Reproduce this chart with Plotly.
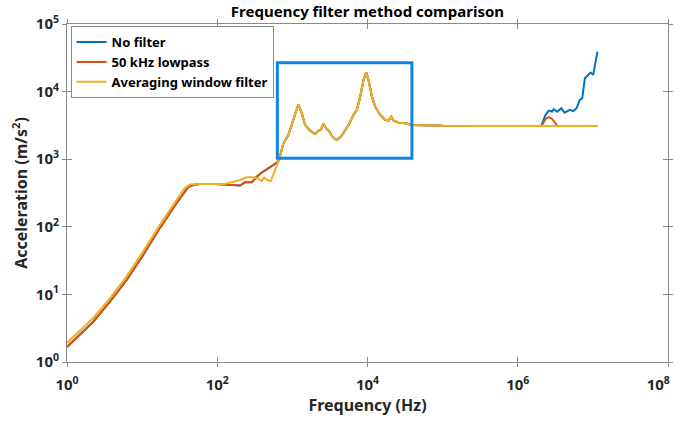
import plotly.graph_objects as go

# Low-frequency part of each spectrum (Hz, m/s^2)
freq_lowpass_low = [1, 2.22, 3.71, 6.19, 10.3, 17.2, 28.7, 41.1, 47.9, 58.8, 93, 148, 201,
                    234, 288, 335, 391, 456, 558, 631]
accel_lowpass_low = [1.67, 3.91, 7.74, 16.2, 38.1, 95.7, 224, 387, 415, 428, 428, 415, 408,
                     455, 455, 550, 635, 708, 820, 900]

freq_avg_low = [1, 2.22, 3.71, 6.19, 10.3, 17.2, 28.7, 37.1, 43.3, 58.8, 126, 148, 201, 247,
                302, 349, 391, 420, 464, 515, 588]
accel_avg_low = [1.91, 4.44, 8.64, 18.3, 42.9, 106, 249, 374, 422, 428, 428, 449, 492, 540,
                 540, 518, 475, 536, 492, 471, 692]

# Resonance band shared by all three signals
freq_mid = [665, 759, 885, 1031, 1202, 1334, 1477, 1722, 2008, 2222, 2392, 2590, 2812, 3112,
            3350, 3597, 3908, 4325, 4786, 5580, 6506, 7223, 7998, 8851, 9610, 10310, 11450,
            12670, 14760, 17220, 19050, 20700, 22220, 25880, 31830, 39060, 50470, 1.0e5,
            3.0e5, 1.0e6, 2.05e6]
accel_mid = [980, 1720, 2285, 3810, 6500, 4790, 3210, 2644, 2360, 2644, 2710, 3320, 2870, 2555,
             2207, 2040, 1925, 2110, 2420, 3210, 4520, 5360, 8430, 14900, 19100, 14900, 8430,
             5990, 4520, 3810, 3720, 4260, 3720, 3474, 3404, 3210, 3180, 3120,
             3100, 3100, 3090]

# High-frequency tails
freq_nofilter_high = [2.34e6, 2.59e6, 2.87e6, 3.0e6, 3.35e6, 3.79e6, 4.2e6, 4.56e6, 4.93e6,
                      5.48e6, 6.07e6, 6.71e6, 7.23e6, 7.82e6, 8.69e6, 9.32e6, 1.01e7, 1.05e7,
                      1.15e7]
accel_nofilter_high = [4520, 5230, 5050, 5480, 5050, 5680, 4880, 5050, 5360, 5130, 5680, 7530,
                       7980, 15800, 17700, 19100, 17700, 22200, 39100]

freq_lowpass_high = [2.18e6, 2.34e6, 2.59e6, 2.87e6, 3.18e6, 3.35e6, 5e6, 1.15e7]
accel_lowpass_high = [3404, 3940, 4180, 3940, 3404, 3090, 3090, 3090]

freq_avg_high = [5e6, 1.15e7]
accel_avg_high = [3090, 3090]

# Highlighted resonance region
zoom_freq = [631, 39000]
zoom_accel = [1030, 26800]

series = [
    ("No filter", "#0072BD",
     freq_lowpass_low + freq_mid + freq_nofilter_high,
     accel_lowpass_low + accel_mid + accel_nofilter_high),
    ("50 kHz lowpass", "#D95319",
     freq_lowpass_low + freq_mid + freq_lowpass_high,
     accel_lowpass_low + accel_mid + accel_lowpass_high),
    ("Averaging window filter", "#EDB120",
     freq_avg_low + freq_mid + freq_avg_high,
     accel_avg_low + accel_mid + accel_avg_high),
]

FONT = "Noto Sans"
TXT = "#262626"
AX = "#8a8a8a"
NBSP = "\u00a0"

fig = go.Figure()
for name, color, fx, ay in series:
    fig.add_trace(go.Scatter(x=fx, y=ay, mode="lines", name=name,
                             line=dict(color=color, width=2)))

# overlay axes carry the inward half of the ticks
fig.add_trace(go.Scatter(x=[], y=[], xaxis="x2", yaxis="y2", showlegend=False,
                         hoverinfo="skip"))

xt = [1, 1e2, 1e4, 1e6, 1e8]
# last label padded so it stays inside the page
xt_text = ["10<sup>0</sup>", "10<sup>2</sup>", "10<sup>4</sup>", "10<sup>6</sup>",
           "10<sup>8</sup>" + NBSP * 5]
yt = [1, 10, 100, 1e3, 1e4, 1e5]
yt_text = ["10<sup>%d</sup>" % k for k in range(6)]

fig.add_shape(type="rect", xref="x", yref="y",
              x0=zoom_freq[0], x1=zoom_freq[1], y0=zoom_accel[0], y1=zoom_accel[1],
              line=dict(color="#0D85E5", width=3))

axis_common = dict(type="log", showline=True, linecolor=AX, linewidth=1, mirror="allticks",
                   tickcolor=AX, tickwidth=1, showgrid=False, zeroline=False,
                   automargin=False)
tick_font = dict(family=FONT, size=15, weight="bold", color=TXT)
label_font = dict(family=FONT, size=16, weight="bold", color=TXT)

fig.update_layout(
    width=676, height=421,
    margin=dict(l=67, r=8, t=24, b=59),
    paper_bgcolor="white", plot_bgcolor="white",
    font=dict(family=FONT, color=TXT),
    title=dict(text="Frequency filter method comparison", x=0.5436, xanchor="center",
               y=1 - 12 / 421, yanchor="middle",
               font=dict(family=FONT, size=15, weight="bold", color="black")),
    xaxis=dict(**axis_common, range=[0, 8], ticks="outside", ticklen=4,
               tickvals=xt, ticktext=xt_text, ticklabelstandoff=5, tickfont=tick_font,
               ticklabeloverflow="allow",
               title=dict(text="Frequency (Hz)", standoff=4, font=label_font)),
    yaxis=dict(**axis_common, range=[0, 5], ticks="outside", ticklen=4,
               tickvals=yt, ticktext=yt_text, tickfont=tick_font,
               ticklabeloverflow="allow",
               title=dict(text="Acceleration (m/s<sup>2</sup>)", standoff=4,
                          font=label_font)),
    xaxis2=dict(**axis_common, overlaying="x", anchor="y2", side="bottom", range=[0, 8],
                ticks="inside", ticklen=5, tickvals=xt, showticklabels=False),
    yaxis2=dict(**axis_common, overlaying="y", anchor="x2", side="left", range=[0, 5],
                ticks="inside", ticklen=5, tickvals=yt, showticklabels=False),
    legend=dict(x=0.006, y=0.994, xanchor="left", yanchor="top",
                bgcolor="white", bordercolor=AX, borderwidth=1,
                font=dict(family=FONT, size=13, weight="bold", color="black"),
                tracegroupgap=0),
    showlegend=True,
)

fig.write_html("out.html")
